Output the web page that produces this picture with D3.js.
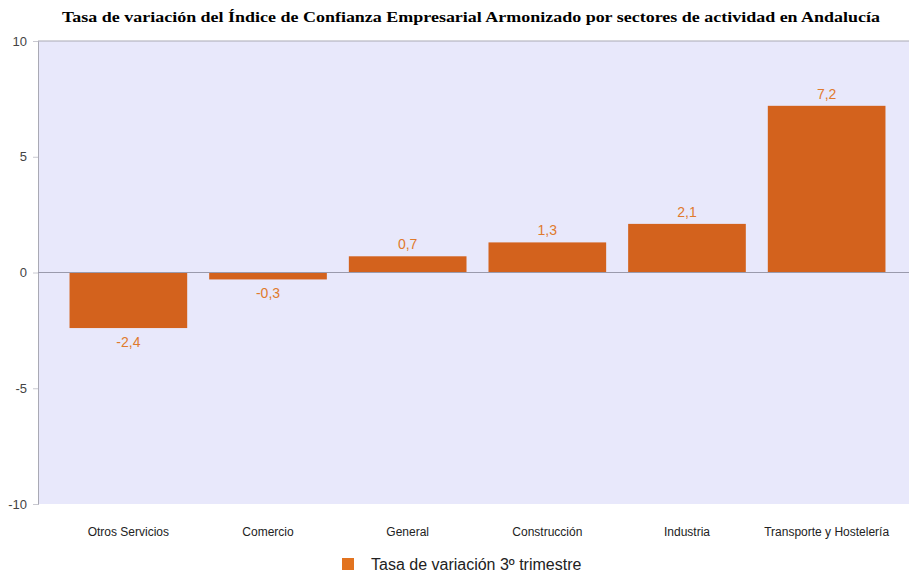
<!DOCTYPE html>
<meta charset="utf-8">
<head>
    <script src="https://d3js.org/d3.v7.min.js"></script>
    <style>
        body { margin: 0; background: #fff; }
        .tick text { font: 13px "Liberation Sans", Arial, sans-serif; fill: #444; }
    </style>
</head>
<body>
<div id="graph"></div>
<script>
    // data
    var categories = ["Otros Servicios", "Comercio", "General", "Construcción", "Industria", "Transporte y Hostelería"];
    var values = [-2.4, -0.3, 0.7, 1.3, 2.1, 7.2];
    var yTicks = [-10, -5, 0, 5, 10];
    var seriesName = "Tasa de variación 3º trimestre";
    var title = "Tasa de variación del Índice de Confianza Empresarial Armonizado por sectores de actividad en Andalucía";

    var W = 909, H = 574;
    var plot = {left: 38, right: 909, top: 41, bottom: 504};

    var svg = d3.select("#graph").append("svg")
        .attr("width", W)
        .attr("height", H);

    // title (condensed bold serif, stretched to width like the original)
    svg.append("text")
        .attr("x", 62)
        .attr("y", 22)
        .attr("textLength", 818)
        .attr("lengthAdjust", "spacingAndGlyphs")
        .style("font", "bold 15px 'Liberation Serif', 'Times New Roman', serif")
        .text(title);

    var x = d3.scaleBand()
        .domain(categories)
        .range([58.5, 896.5])
        .paddingInner(0.1575)
        .paddingOuter(0.079);

    var y = d3.scaleLinear()
        .domain([-10, 10])
        .range([plot.bottom, plot.top]);

    // background
    svg.append("rect")
        .attr("x", plot.left)
        .attr("y", plot.top)
        .attr("width", plot.right - plot.left)
        .attr("height", plot.bottom - plot.top)
        .attr("fill", "#e8e8fb");

    // top border
    svg.append("line")
        .attr("x1", plot.left).attr("x2", plot.right)
        .attr("y1", y(10)).attr("y2", y(10))
        .attr("stroke", "#a9a9b4");

    // Y axis
    var yAxis = svg.append("g")
        .attr("transform", "translate(" + plot.left + ",0)")
        .call(d3.axisLeft(y).tickValues(yTicks).tickSize(5).tickPadding(6)
            .tickFormat(function (d) { return String(d); }));
    yAxis.select(".domain").attr("stroke", "#a9a9b4");
    yAxis.selectAll(".tick line").attr("stroke", "#c8c8d0");

    // bars
    svg.selectAll("rect.bar")
        .data(values)
        .enter()
        .append("rect")
        .attr("class", "bar")
        .attr("x", function (d, i) { return x(categories[i]); })
        .attr("y", function (d) { return y(Math.max(0, d)); })
        .attr("width", x.bandwidth())
        .attr("height", function (d) { return Math.abs(y(d) - y(0)); })
        .attr("fill", "#d3621d");

    // zero line
    svg.append("line")
        .attr("x1", plot.left).attr("x2", plot.right)
        .attr("y1", y(0)).attr("y2", y(0))
        .attr("stroke", "#9a9aac");

    // value labels
    svg.selectAll("text.val")
        .data(values)
        .enter()
        .append("text")
        .attr("class", "val")
        .attr("x", function (d, i) { return x(categories[i]) + x.bandwidth() / 2; })
        .attr("y", function (d) { return d >= 0 ? y(d) - 7 : y(d) + 19; })
        .attr("text-anchor", "middle")
        .style("font", "14px 'Liberation Sans', Arial, sans-serif")
        .attr("fill", "#e07a2c")
        .text(function (d) { return d.toFixed(1).replace(".", ","); });

    // category labels
    svg.selectAll("text.cat")
        .data(categories)
        .enter()
        .append("text")
        .attr("class", "cat")
        .attr("x", function (d) { return x(d) + x.bandwidth() / 2; })
        .attr("y", 536)
        .attr("text-anchor", "middle")
        .style("font", "12px 'Liberation Sans', Arial, sans-serif")
        .attr("fill", "#222")
        .text(function (d) { return d; });

    // legend
    svg.append("rect")
        .attr("x", 342).attr("y", 558)
        .attr("width", 12).attr("height", 12)
        .attr("fill", "#e2731f");
    svg.append("text")
        .attr("x", 371).attr("y", 570)
        .style("font", "16px 'Liberation Sans', Arial, sans-serif")
        .attr("fill", "#222")
        .text(seriesName);
</script>
</body>
